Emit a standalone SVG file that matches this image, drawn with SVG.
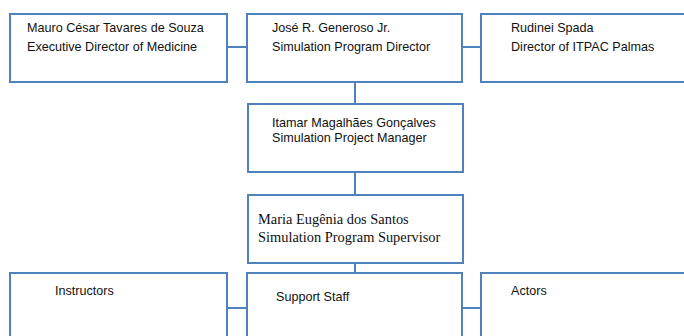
<svg xmlns="http://www.w3.org/2000/svg" width="684" height="336" viewBox="0 0 684 336">
<style>
.box{fill:#fff;stroke:#4f81bd;stroke-width:2}
.con{stroke:#4f81bd;stroke-width:2;fill:none}
.t{font-family:"Liberation Sans",Arial,sans-serif;font-size:12.6px;fill:#111}
.s{font-family:"Liberation Serif","Times New Roman",serif;font-size:14.4px;fill:#111}
</style>
<rect width="684" height="336" fill="#fff"/>
<g id="connectors">
<line class="con" x1="227" y1="47" x2="247" y2="47"/>
<line class="con" x1="455" y1="47" x2="481" y2="47"/>
<line class="con" x1="355" y1="82" x2="355" y2="104"/>
<line class="con" x1="355" y1="172" x2="355" y2="195"/>
<line class="con" x1="355" y1="263" x2="355" y2="273"/>
<line class="con" x1="227" y1="308" x2="247" y2="308"/>
<line class="con" x1="455" y1="308" x2="481" y2="308"/>
</g>
<g id="souza">
<rect class="box" x="10" y="14" width="217" height="68"/>
<text class="t" x="27" y="32">Mauro César Tavares de Souza</text>
<text class="t" x="27" y="51">Executive Director of Medicine</text>
</g>
<g id="generoso">
<rect class="box" x="247" y="14" width="215" height="68"/>
<text class="t" x="272" y="32">José R. Generoso Jr.</text>
<text class="t" x="272" y="51">Simulation Program Director</text>
</g>
<g id="spada">
<rect class="box" x="481" y="14" width="220" height="68"/>
<text class="t" x="511" y="32">Rudinei Spada</text>
<text class="t" x="511" y="51">Director of ITPAC Palmas</text>
</g>
<g id="goncalves">
<rect class="box" x="248" y="104" width="215" height="68"/>
<text class="t" x="272" y="127">Itamar Magalhães Gonçalves</text>
<text class="t" x="272" y="142">Simulation Project Manager</text>
</g>
<g id="santos">
<rect class="box" x="248" y="195" width="215" height="68"/>
<text class="s" x="258" y="224">Maria Eugênia dos Santos</text>
<text class="s" x="258" y="242">Simulation Program Supervisor</text>
</g>
<g id="instructors">
<rect class="box" x="10" y="273" width="217" height="100"/>
<text class="t" x="55" y="295">Instructors</text>
</g>
<g id="support">
<rect class="box" x="247" y="273" width="215" height="100"/>
<text class="t" x="276" y="301">Support Staff</text>
</g>
<g id="actors">
<rect class="box" x="481" y="273" width="220" height="100"/>
<text class="t" x="511" y="295">Actors</text>
</g>
</svg>
